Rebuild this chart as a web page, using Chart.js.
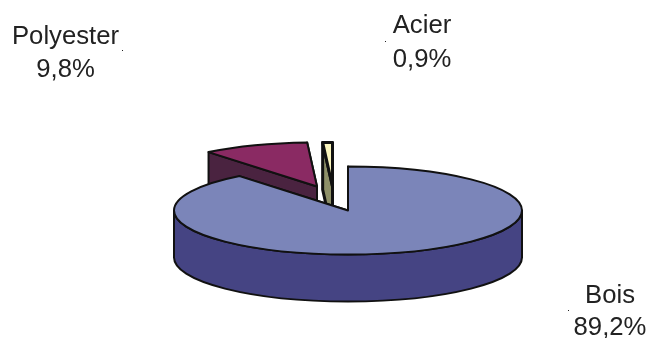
<!DOCTYPE html>
<html>
<head>
<meta charset="utf-8">
<title>Bois, Polyester, Acier</title>
<script src="https://cdn.jsdelivr.net/npm/chart.js@4"></script>
<style>
  html, body { margin: 0; padding: 0; background: #fff; }
  canvas { display: block; }
</style>
</head>
<body>
<canvas id="pieChart" width="648" height="338"></canvas>
<script>
const categories = ["Bois", "Polyester", "Acier"];
const shares = [89.2, 9.8, 0.9];

const topColors = ["#7b85b9", "#8a2a63", "#fbf6be"];
const sideColors = ["#454483", "#4a2340", "#8e9068"];

// back slices first, so the big slice overlaps their walls
const drawOrder = [1, 2, 0];

// how far each slice is pulled out of the pie, in px
const shiftX = [0, -31, -15.5];
const shiftY = [0, -24, -24];

// the thin slice gets a heavier outline
const outlineWidth = [2, 2, 3];

// label centre and the two baselines
const labelX = [610, 65.5, 422];
const labelY = [[303, 335], [44, 77], [33, 67]];

// small stubs left over from the label leader lines
const stubX = [568, 122, 385];
const stubY = [310, 50, 41];

const squash = 44 / 174;
const depth = 47;
const lineColor = "#111";

function rimPoint(p, angle, dx, dy) {
  return [
    p.x + dx + Math.cos(angle) * p.outerRadius,
    p.y + dy + Math.sin(angle) * p.outerRadius * squash,
  ];
}

function drawWall(ctx, p, angle, dx, dy) {
  const tipX = p.x + dx;
  const tipY = p.y + dy;
  const [rx, ry] = rimPoint(p, angle, dx, dy);
  ctx.beginPath();
  ctx.moveTo(tipX, tipY);
  ctx.lineTo(rx, ry);
  ctx.lineTo(rx, ry + depth);
  ctx.lineTo(tipX, tipY + depth);
  ctx.closePath();
  ctx.fill();
  ctx.stroke();
}

function drawFrontRim(ctx, p, dx, dy) {
  const from = Math.max(p.startAngle, 0);
  const to = Math.min(p.endAngle, Math.PI);
  if (from >= to) return;
  const ry = p.outerRadius * squash;
  ctx.beginPath();
  ctx.ellipse(p.x + dx, p.y + dy, p.outerRadius, ry, 0, from, to);
  ctx.ellipse(p.x + dx, p.y + dy + depth, p.outerRadius, ry, 0, to, from, true);
  ctx.closePath();
  ctx.fill();
  ctx.stroke();
}

function drawTop(ctx, p, dx, dy) {
  ctx.beginPath();
  ctx.moveTo(p.x + dx, p.y + dy);
  ctx.ellipse(p.x + dx, p.y + dy, p.outerRadius, p.outerRadius * squash, 0, p.startAngle, p.endAngle);
  ctx.closePath();
  ctx.fill();
  ctx.stroke();
}

// Chart.js only does flat pies, so the arcs it lays out get redrawn here as a tilted disc
const tiltedPie = {
  id: "tiltedPie",
  beforeDatasetDraw() {
    return false;
  },
  afterDatasetsDraw(chart) {
    const ctx = chart.ctx;
    const arcs = chart.getDatasetMeta(0).data;

    ctx.save();
    ctx.lineJoin = "round";
    ctx.strokeStyle = lineColor;

    drawOrder.forEach((i) => {
      const p = arcs[i].getProps(["x", "y", "startAngle", "endAngle", "outerRadius"], true);
      const dx = shiftX[i];
      const dy = shiftY[i];

      ctx.lineWidth = outlineWidth[i];
      ctx.fillStyle = sideColors[i];
      drawWall(ctx, p, p.endAngle, dx, dy);
      drawWall(ctx, p, p.startAngle, dx, dy);
      drawFrontRim(ctx, p, dx, dy);

      ctx.fillStyle = arcs[i].options.backgroundColor;
      drawTop(ctx, p, dx, dy);
    });
    ctx.restore();
  },
};

const shareLabels = {
  id: "shareLabels",
  afterDraw(chart) {
    const ctx = chart.ctx;
    ctx.save();
    ctx.font = '25.7px "Liberation Sans", Arial, sans-serif';
    ctx.fillStyle = "#222";
    ctx.textAlign = "center";
    ctx.textBaseline = "alphabetic";
    categories.forEach((name, i) => {
      const value = shares[i].toFixed(1).replace(".", ",") + "%";
      ctx.fillText(name, labelX[i], labelY[i][0]);
      ctx.fillText(value, labelX[i], labelY[i][1]);
      ctx.fillRect(stubX[i], stubY[i], 1, 1);
    });
    ctx.restore();
  },
};

new Chart(document.getElementById("pieChart").getContext("2d"), {
  type: "pie",
  data: {
    labels: categories,
    datasets: [
      {
        data: shares,
        backgroundColor: topColors,
        borderWidth: 0,
      },
    ],
  },
  options: {
    responsive: false,
    animation: false,
    radius: 174,
    layout: { padding: { left: 48, top: 83 } },
    plugins: {
      legend: { display: false },
      tooltip: { enabled: false },
    },
  },
  plugins: [tiltedPie, shareLabels],
});
</script>
</body>
</html>
